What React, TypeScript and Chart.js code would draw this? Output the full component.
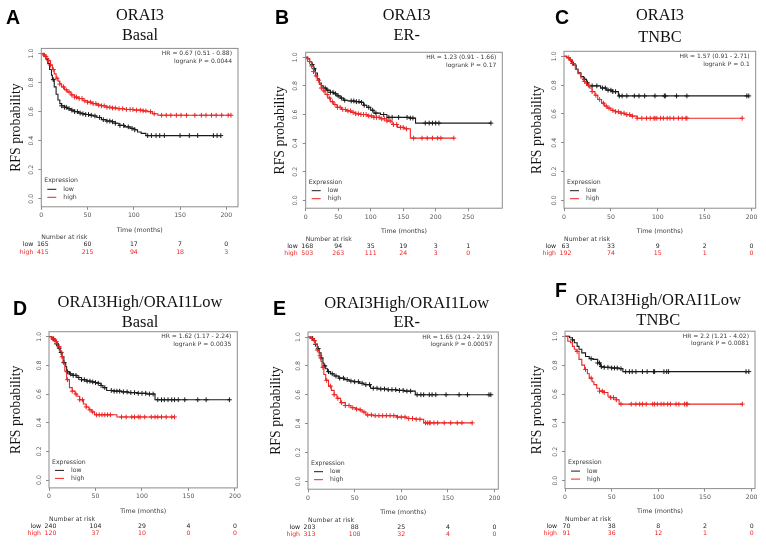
import React, { useEffect, useRef } from "react";
import { Chart, registerables } from "chart.js";

Chart.register(...registerables);

// ---------- shared tick labels ----------
const xTicks200 = [0, 50, 100, 150, 200];
const xTicks250 = [0, 50, 100, 150, 200, 250];
const yTicks = [0, 0.2, 0.4, 0.6, 0.8, 1.0];
const groupLabels = ["low", "high"];

// ---------- Panel A : ORAI3 Basal ----------
const aLowTime = [0, 3, 5, 7, 9, 11, 12, 14, 16, 18, 20, 22, 25, 28, 32, 36, 40, 44, 48, 52, 56, 60, 65, 70, 76, 80, 84, 90, 96, 101, 104, 108, 113, 195];
const aLowSurv = [1, 0.98, 0.96, 0.93, 0.89, 0.85, 0.82, 0.77, 0.72, 0.68, 0.655, 0.64, 0.63, 0.62, 0.61, 0.6, 0.59, 0.585, 0.58, 0.575, 0.57, 0.56, 0.545, 0.535, 0.53, 0.52, 0.505, 0.495, 0.485, 0.475, 0.46, 0.45, 0.435, 0.435];
const aLowCensor = [13, 22, 25, 27, 30, 33, 36, 39, 42, 45, 48, 51, 54, 58, 63, 67, 71, 74, 77, 80, 85, 89, 94, 98, 101, 115, 119, 124, 128, 133, 150, 160, 169, 186, 190, 194];
const aHighTime = [0, 2, 4, 6, 8, 10, 12, 14, 16, 18, 20, 22, 25, 28, 32, 36, 40, 45, 50, 55, 60, 65, 70, 76, 82, 90, 100, 110, 115, 120, 126, 205];
const aHighSurv = [1, 0.99, 0.98, 0.965, 0.95, 0.92, 0.89, 0.86, 0.83, 0.81, 0.79, 0.77, 0.75, 0.735, 0.715, 0.7, 0.69, 0.675, 0.665, 0.655, 0.645, 0.64, 0.63, 0.625, 0.62, 0.615, 0.61, 0.605, 0.6, 0.585, 0.575, 0.575];
const aHighCensor = [3, 5, 8, 10, 13, 17, 20, 24, 27, 30, 33, 36, 38, 41, 44, 47, 50, 53, 56, 59, 62, 65, 68, 71, 74, 77, 80, 84, 88, 92, 96, 99, 103, 107, 110, 113, 118, 122, 130, 135, 140, 146, 151, 157, 166, 173, 178, 184, 189, 195, 202, 205];
const aRiskLow = [165, 60, 17, 7, 0];
const aRiskHigh = [415, 215, 94, 18, 3];
const aStats = ["HR = 0.67 (0.51 - 0.88)", "logrank P = 0.0044"];

// ---------- Panel B : ORAI3 ER- ----------
const bLowTime = [0, 3, 6, 9, 12, 15, 18, 21, 24, 27, 32, 38, 43, 48, 53, 58, 65, 75, 84, 89, 94, 100, 105, 115, 125, 140, 160, 169, 285];
const bLowSurv = [1, 0.99, 0.97, 0.95, 0.92, 0.89, 0.85, 0.82, 0.8, 0.785, 0.77, 0.755, 0.745, 0.73, 0.715, 0.7, 0.695, 0.69, 0.685, 0.665, 0.65, 0.63, 0.61, 0.6, 0.58, 0.58, 0.575, 0.54, 0.54];
const bLowCensor = [10, 13, 30, 34, 38, 42, 46, 50, 55, 60, 70, 74, 78, 82, 86, 90, 97, 103, 108, 120, 128, 133, 143, 156, 161, 165, 184, 190, 195, 200, 205, 285];
const bHighTime = [0, 3, 6, 9, 12, 15, 18, 21, 24, 27, 30, 34, 38, 43, 48, 55, 63, 70, 77, 84, 95, 105, 115, 125, 133, 141, 151, 161, 228];
const bHighSurv = [1, 0.99, 0.97, 0.94, 0.9, 0.87, 0.84, 0.81, 0.785, 0.765, 0.74, 0.715, 0.69, 0.67, 0.65, 0.635, 0.625, 0.615, 0.605, 0.6, 0.59, 0.58, 0.57, 0.555, 0.53, 0.51, 0.5, 0.435, 0.435];
const bHighCensor = [3, 6, 9, 12, 16, 20, 24, 28, 33, 37, 41, 45, 49, 53, 57, 61, 65, 69, 73, 77, 81, 85, 89, 93, 97, 101, 105, 109, 113, 117, 121, 125, 130, 135, 140, 146, 150, 155, 166, 179, 187, 195, 203, 208, 228];
const bRiskLow = [168, 94, 35, 19, 3, 1];
const bRiskHigh = [503, 263, 111, 24, 3, 0];
const bStats = ["HR = 1.23 (0.91 - 1.66)", "logrank P = 0.17"];

// ---------- Panel C : ORAI3 TNBC ----------
const cLowTime = [0, 3, 6, 8, 10, 13, 15, 18, 21, 24, 26, 39, 45, 52, 58, 197];
const cLowSurv = [1, 0.99, 0.975, 0.96, 0.94, 0.91, 0.885, 0.86, 0.84, 0.815, 0.795, 0.78, 0.765, 0.755, 0.725, 0.725];
const cLowCensor = [22, 25, 30, 35, 41, 44, 47, 50, 52, 55, 59, 62, 67, 75, 80, 86, 97, 107, 108, 120, 131, 195, 197];
const cHighTime = [0, 3, 6, 9, 12, 15, 18, 21, 24, 27, 30, 33, 36, 40, 43, 46, 50, 55, 60, 65, 71, 78, 190];
const cHighSurv = [1, 0.99, 0.975, 0.95, 0.91, 0.88, 0.85, 0.825, 0.8, 0.78, 0.755, 0.73, 0.7, 0.675, 0.655, 0.64, 0.625, 0.615, 0.605, 0.595, 0.585, 0.57, 0.57];
const cHighCensor = [5, 7, 9, 22, 26, 30, 34, 38, 42, 45, 48, 52, 55, 58, 61, 64, 67, 70, 73, 78, 83, 88, 92, 96, 97, 99, 103, 106, 110, 113, 117, 122, 126, 130, 131, 190];
const cRiskLow = [63, 33, 9, 2, 0];
const cRiskHigh = [192, 74, 15, 1, 0];
const cStats = ["HR = 1.57 (0.91 - 2.71)", "logrank P = 0.1"];

// ---------- Panel D : ORAI3High/ORAI1Low Basal ----------
const dLowTime = [0, 3, 6, 8, 10, 12, 14, 16, 18, 19, 22, 26, 30, 35, 40, 45, 50, 53, 56, 58, 62, 70, 78, 85, 95, 105, 114, 195];
const dLowSurv = [1, 0.985, 0.975, 0.95, 0.92, 0.89, 0.86, 0.82, 0.79, 0.755, 0.74, 0.73, 0.715, 0.7, 0.69, 0.685, 0.68, 0.675, 0.66, 0.645, 0.625, 0.62, 0.615, 0.61, 0.605, 0.6, 0.56, 0.56];
const dLowCensor = [5, 8, 11, 13, 16, 20, 23, 26, 29, 32, 35, 38, 41, 44, 47, 50, 53, 56, 60, 67, 70, 73, 76, 80, 84, 88, 92, 96, 100, 104, 108, 112, 117, 121, 124, 128, 132, 135, 139, 146, 160, 169, 194];
const dHighTime = [0, 3, 6, 9, 12, 14, 15, 17, 19, 22, 25, 28, 30, 33, 37, 40, 43, 46, 49, 73, 135];
const dHighSurv = [1, 0.985, 0.965, 0.93, 0.895, 0.86, 0.815, 0.76, 0.7, 0.645, 0.62, 0.6, 0.585, 0.56, 0.53, 0.51, 0.49, 0.475, 0.455, 0.44, 0.44];
const dHighCensor = [4, 8, 11, 14, 20, 25, 29, 33, 36, 40, 44, 47, 51, 54, 57, 60, 63, 66, 78, 83, 89, 92, 96, 98, 103, 110, 114, 117, 121, 126, 132, 135];
const dRiskLow = [240, 104, 29, 4, 0];
const dRiskHigh = [120, 37, 10, 0, 0];
const dStats = ["HR = 1.62 (1.17 - 2.24)", "logrank P = 0.0035"];

// ---------- Panel E : ORAI3High/ORAI1Low ER- ----------
const eLowTime = [0, 3, 6, 8, 10, 12, 14, 16, 17, 19, 21, 24, 28, 33, 39, 44, 49, 55, 60, 67, 75, 85, 95, 103, 115, 196];
const eLowSurv = [1, 0.99, 0.975, 0.95, 0.92, 0.89, 0.855, 0.82, 0.8, 0.78, 0.76, 0.745, 0.73, 0.715, 0.705, 0.695, 0.69, 0.68, 0.67, 0.645, 0.64, 0.635, 0.63, 0.625, 0.6, 0.6];
const eLowCensor = [5, 8, 11, 14, 18, 22, 26, 30, 34, 38, 42, 46, 50, 54, 58, 62, 66, 70, 74, 78, 82, 86, 90, 94, 98, 102, 106, 110, 117, 121, 124, 130, 133, 137, 148, 162, 171, 194, 196];
const eHighTime = [0, 3, 6, 8, 10, 12, 14, 15, 17, 19, 22, 25, 28, 31, 35, 40, 46, 51, 55, 58, 62, 70, 85, 95, 106, 115, 124, 176];
const eHighSurv = [1, 0.99, 0.975, 0.95, 0.91, 0.87, 0.83, 0.79, 0.74, 0.7, 0.66, 0.63, 0.6, 0.575, 0.545, 0.525, 0.51, 0.5, 0.495, 0.48, 0.46, 0.455, 0.455, 0.445, 0.435, 0.43, 0.405, 0.405];
const eHighCensor = [4, 7, 10, 13, 16, 20, 24, 28, 32, 36, 40, 44, 48, 52, 56, 60, 64, 68, 72, 76, 80, 84, 88, 92, 96, 100, 104, 108, 112, 116, 120, 126, 128, 130, 131, 135, 139, 146, 153, 160, 165, 176];
const eRiskLow = [203, 88, 25, 4, 0];
const eRiskHigh = [313, 108, 32, 4, 0];
const eStats = ["HR = 1.65 (1.24 - 2.19)", "logrank P = 0.00057"];

// ---------- Panel F : ORAI3High/ORAI1Low TNBC ----------
const fLowTime = [0, 5, 8, 10, 13, 15, 18, 22, 26, 30, 35, 38, 42, 50, 58, 62, 197];
const fLowSurv = [1, 0.99, 0.975, 0.955, 0.93, 0.91, 0.885, 0.86, 0.845, 0.84, 0.815, 0.79, 0.785, 0.78, 0.775, 0.755, 0.755];
const fLowCensor = [8, 28, 35, 37, 39, 42, 46, 50, 53, 56, 60, 65, 69, 72, 76, 83, 88, 95, 96, 106, 109, 111, 194, 197];
const fHighTime = [0, 3, 6, 8, 10, 12, 15, 18, 21, 24, 26, 29, 31, 34, 37, 42, 46, 49, 55, 58, 190];
const fHighSurv = [1, 0.965, 0.955, 0.93, 0.91, 0.895, 0.84, 0.8, 0.77, 0.74, 0.71, 0.685, 0.665, 0.64, 0.62, 0.61, 0.585, 0.575, 0.56, 0.53, 0.53];
const fHighCensor = [13, 22, 28, 37, 40, 42, 49, 52, 55, 60, 71, 76, 80, 83, 87, 94, 96, 99, 103, 106, 110, 113, 119, 122, 128, 130, 131, 190];
const fRiskLow = [70, 38, 8, 2, 0];
const fRiskHigh = [91, 36, 12, 1, 0];
const fStats = ["HR = 2.2 (1.21 - 4.02)", "logrank P = 0.0081"];

// ---------- styling ----------
const LOW_COLOR = "#1a1a1a";
const HIGH_COLOR = "#ee2424";
const BOX_COLOR = "#8c8c8c";
const LABEL_COLOR = "#555555";
const SMALL_FONT = "'DejaVu Sans', sans-serif";
const SERIF_FONT = "'Liberation Serif', serif";
const X_AXIS_H = 30;

type Curve = { time: number[]; surv: number[]; censor: number[] };
type PanelSpec = {
  letter: string;
  titles: string[];
  titleSize: number;
  pageX: number;
  pageY: number;
  w: number;
  h: number;
  left: number;
  right: number;
  top: number;
  bottom: number;
  xMax: number;
  xTicks: number[];
  yTitleX: number;
  letterX: number;
  letterY: number;
  titleX: number;
  titleY: number[];
  low: Curve;
  high: Curve;
  riskLow: number[];
  riskHigh: number[];
  stats: string[];
};

const panels: PanelSpec[] = [
  {
    letter: "A", titles: ["ORAI3", "Basal"], titleSize: 16.3,
    pageX: 0, pageY: 0, w: 255, h: 270,
    left: 41.3, right: 238, top: 48.4, bottom: 206.8, xMax: 212.6, xTicks: xTicks200,
    yTitleX: 16, letterX: 6, letterY: 24, titleX: 140, titleY: [20, 40],
    low: { time: aLowTime, surv: aLowSurv, censor: aLowCensor },
    high: { time: aHighTime, surv: aHighSurv, censor: aHighCensor },
    riskLow: aRiskLow, riskHigh: aRiskHigh, stats: aStats,
  },
  {
    letter: "B", titles: ["ORAI3", "ER-"], titleSize: 16.3,
    pageX: 255, pageY: 0, w: 255, h: 270,
    left: 50.7, right: 247.3, top: 52.3, bottom: 208.2, xMax: 302.5, xTicks: xTicks250,
    yTitleX: 25.5, letterX: 20, letterY: 24, titleX: 151.7, titleY: [20, 40],
    low: { time: bLowTime, surv: bLowSurv, censor: bLowCensor },
    high: { time: bHighTime, surv: bHighSurv, censor: bHighCensor },
    riskLow: bRiskLow, riskHigh: bRiskHigh, stats: bStats,
  },
  {
    letter: "C", titles: ["ORAI3", "TNBC"], titleSize: 16.3,
    pageX: 510, pageY: 0, w: 256, h: 270,
    left: 54, right: 245.7, top: 51.3, bottom: 208.2, xMax: 204.4, xTicks: xTicks200,
    yTitleX: 27.5, letterX: 45, letterY: 24, titleX: 150, titleY: [20, 41.5],
    low: { time: cLowTime, surv: cLowSurv, censor: cLowCensor },
    high: { time: cHighTime, surv: cHighSurv, censor: cHighCensor },
    riskLow: cRiskLow, riskHigh: cRiskHigh, stats: cStats,
  },
  {
    letter: "D", titles: ["ORAI3High/ORAI1Low", "Basal"], titleSize: 16.5,
    pageX: 0, pageY: 270, w: 255, h: 275,
    left: 49, right: 237.3, top: 61.7, bottom: 217.9, xMax: 202.5, xTicks: xTicks200,
    yTitleX: 16, letterX: 13, letterY: 45, titleX: 140, titleY: [36.7, 56.7],
    low: { time: dLowTime, surv: dLowSurv, censor: dLowCensor },
    high: { time: dHighTime, surv: dHighSurv, censor: dHighCensor },
    riskLow: dRiskLow, riskHigh: dRiskHigh, stats: dStats,
  },
  {
    letter: "E", titles: ["ORAI3High/ORAI1Low", "ER-"], titleSize: 16.5,
    pageX: 255, pageY: 270, w: 255, h: 275,
    left: 53, right: 243.3, top: 62, bottom: 219.2, xMax: 204, xTicks: xTicks200,
    yTitleX: 21.7, letterX: 18, letterY: 45, titleX: 151.7, titleY: [37.7, 56.7],
    low: { time: eLowTime, surv: eLowSurv, censor: eLowCensor },
    high: { time: eHighTime, surv: eHighSurv, censor: eHighCensor },
    riskLow: eRiskLow, riskHigh: eRiskHigh, stats: eStats,
  },
  {
    letter: "F", titles: ["ORAI3High/ORAI1Low", "TNBC"], titleSize: 16.5,
    pageX: 510, pageY: 270, w: 256, h: 275,
    left: 55, right: 245, top: 61.2, bottom: 218.6, xMax: 203.6, xTicks: xTicks200,
    yTitleX: 27.5, letterX: 45, letterY: 26.7, titleX: 148.3, titleY: [35, 55],
    low: { time: fLowTime, surv: fLowSurv, censor: fLowCensor },
    high: { time: fHighTime, surv: fHighSurv, censor: fHighCensor },
    riskLow: fRiskLow, riskHigh: fRiskHigh, stats: fStats,
  },
];

// value of a Kaplan-Meier step function at time t
function survAt(time: number[], surv: number[], t: number): number {
  let v = surv[0];
  for (let i = 0; i < time.length; i++) {
    if (time[i] <= t) v = surv[i];
    else break;
  }
  return v;
}

function curveDataset(c: Curve, color: string) {
  return {
    data: c.time.map((x, i) => ({ x, y: c.surv[i] })),
    showLine: true,
    stepped: "before" as const,
    borderColor: color,
    backgroundColor: color,
    borderWidth: 1.1,
    pointRadius: 0,
    fill: false,
  };
}

function censorDataset(c: Curve, color: string) {
  return {
    data: c.censor.map((x) => ({ x, y: survAt(c.time, c.surv, x) })),
    showLine: false,
    pointStyle: "cross" as const,
    pointRadius: 2.4,
    borderWidth: 1,
    borderColor: color,
    backgroundColor: color,
  };
}

function panelPlugin(p: PanelSpec) {
  return {
    id: "kmDecor" + p.letter,
    afterDraw(chart: any) {
      const ctx: CanvasRenderingContext2D = chart.ctx;
      const a = chart.chartArea;
      const xs = chart.scales.x;
      const ys = chart.scales.y;
      ctx.save();

      // plot box
      ctx.strokeStyle = BOX_COLOR;
      ctx.lineWidth = 1;
      ctx.strokeRect(a.left, a.top, a.right - a.left, a.bottom - a.top);

      // y tick labels (rotated, as in R)
      ctx.fillStyle = LABEL_COLOR;
      ctx.font = `6.2px ${SMALL_FONT}`;
      ctx.textAlign = "center";
      ctx.textBaseline = "middle";
      yTicks.forEach((v) => {
        const py = ys.getPixelForValue(v);
        ctx.save();
        ctx.translate(a.left - 10, py);
        ctx.rotate(-Math.PI / 2);
        ctx.fillText(v.toFixed(1), 0, 0);
        ctx.restore();
      });

      // panel letter
      ctx.fillStyle = "#000";
      ctx.font = `bold 19.5px 'Liberation Sans', Arial, sans-serif`;
      ctx.textAlign = "left";
      ctx.textBaseline = "alphabetic";
      ctx.fillText(p.letter, p.letterX, p.letterY);

      // serif titles
      ctx.fillStyle = "#111";
      ctx.font = `${p.titleSize}px ${SERIF_FONT}`;
      ctx.textAlign = "center";
      p.titles.forEach((t, i) => ctx.fillText(t, p.titleX, p.titleY[i]));

      // HR / logrank
      ctx.fillStyle = "#3a3a3a";
      ctx.font = `6px ${SMALL_FONT}`;
      ctx.textAlign = "right";
      ctx.textBaseline = "middle";
      ctx.fillText(p.stats[0], a.right - 6, a.top + 5);
      ctx.fillText(p.stats[1], a.right - 6, a.top + 12.7);

      // legend
      ctx.font = `6.2px ${SMALL_FONT}`;
      ctx.textAlign = "left";
      ctx.fillStyle = "#3a3a3a";
      ctx.fillText("Expression", a.left + 3, a.bottom - 26);
      const legendColors = [LOW_COLOR, HIGH_COLOR];
      groupLabels.forEach((g, i) => {
        const ly = a.bottom - 17.5 + i * 8;
        ctx.strokeStyle = legendColors[i];
        ctx.lineWidth = 1;
        ctx.beginPath();
        ctx.moveTo(a.left + 6, ly);
        ctx.lineTo(a.left + 15, ly);
        ctx.stroke();
        ctx.fillStyle = "#3a3a3a";
        ctx.fillText(g, a.left + 22, ly);
      });

      // number at risk
      ctx.fillStyle = "#3a3a3a";
      ctx.textAlign = "left";
      ctx.fillText("Number at risk", a.left, a.bottom + 31);
      const rows = [p.riskLow, p.riskHigh];
      rows.forEach((row, ri) => {
        const ry = a.bottom + 38 + ri * 7.2;
        ctx.fillStyle = ri === 0 ? "#222" : HIGH_COLOR;
        ctx.textAlign = "right";
        ctx.fillText(groupLabels[ri], a.left - 8, ry);
        ctx.textAlign = "center";
        row.forEach((n, j) => {
          const px = xs.getPixelForValue(p.xTicks[j]) + (j === 0 ? 1.5 : 0);
          ctx.fillText(String(n), px, ry);
        });
      });

      ctx.restore();
    },
  };
}

function KMPanel({ p }: { p: PanelSpec }) {
  const ref = useRef<HTMLCanvasElement | null>(null);
  useEffect(() => {
    if (!ref.current) return;
    const chart = new Chart(ref.current, {
      type: "scatter",
      data: {
        datasets: [
          curveDataset(p.high, HIGH_COLOR),
          censorDataset(p.high, HIGH_COLOR),
          curveDataset(p.low, LOW_COLOR),
          censorDataset(p.low, LOW_COLOR),
        ] as any,
      },
      options: {
        responsive: false,
        animation: false,
        devicePixelRatio: 1,
        events: [],
        layout: {
          padding: {
            left: 0,
            top: p.top,
            right: p.w - p.right,
            bottom: p.h - p.bottom - X_AXIS_H,
          },
        },
        plugins: {
          legend: { display: false },
          tooltip: { enabled: false },
          title: { display: false },
        },
        scales: {
          x: {
            type: "linear",
            min: 0,
            max: p.xMax,
            afterBuildTicks: (s: any) => {
              s.ticks = p.xTicks.map((v) => ({ value: v }));
            },
            afterFit: (s: any) => {
              s.height = X_AXIS_H;
            },
            grid: {
              display: true,
              drawOnChartArea: false,
              drawTicks: true,
              tickLength: 3,
              color: BOX_COLOR,
              lineWidth: 1,
            },
            border: { display: false },
            ticks: {
              autoSkip: false,
              maxRotation: 0,
              minRotation: 0,
              padding: 2,
              color: LABEL_COLOR,
              font: { family: SMALL_FONT, size: 6.2 },
            },
            title: {
              display: true,
              text: "Time (months)",
              color: "#3a3a3a",
              font: { family: SMALL_FONT, size: 6.3, lineHeight: 1 },
              padding: { top: 0, bottom: X_AXIS_H - 3.15 - 23.2 },
            },
          },
          y: {
            type: "linear",
            min: -0.055,
            max: 1.035,
            afterBuildTicks: (s: any) => {
              s.ticks = yTicks.map((v) => ({ value: v }));
            },
            afterFit: (s: any) => {
              s.width = p.left;
            },
            grid: {
              display: true,
              drawOnChartArea: false,
              drawTicks: true,
              tickLength: 3,
              color: BOX_COLOR,
              lineWidth: 1,
            },
            border: { display: false },
            ticks: { display: false },
            title: {
              display: true,
              text: "RFS probability",
              color: "#111",
              font: { family: SERIF_FONT, size: 13.8, lineHeight: 1 },
              padding: { top: p.yTitleX - 6.9, bottom: 0 },
            },
          },
        },
      } as any,
      plugins: [panelPlugin(p)],
    });
    return () => chart.destroy();
  }, [p]);

  return (
    <canvas
      ref={ref}
      width={p.w}
      height={p.h}
      style={{
        position: "absolute",
        left: p.pageX,
        top: p.pageY,
        width: p.w,
        height: p.h,
        display: "block",
      }}
    />
  );
}

export default function App() {
  return (
    <div
      style={{
        position: "absolute",
        left: 0,
        top: 0,
        width: 766,
        height: 545,
        background: "#ffffff",
        overflow: "hidden",
      }}
    >
      {panels.map((p) => (
        <KMPanel key={p.letter} p={p} />
      ))}
    </div>
  );
}
